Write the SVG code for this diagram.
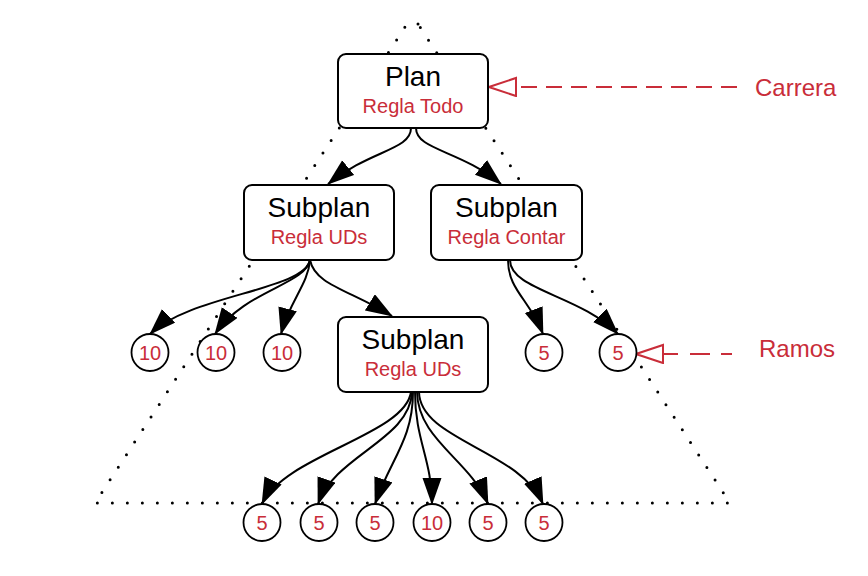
<svg xmlns="http://www.w3.org/2000/svg" width="868" height="576" viewBox="0 0 868 576">
<style>
.box{fill:#fff;stroke:#000;stroke-width:2}
.circ{fill:#fff;stroke:#000;stroke-width:1.8}
.t1{font-family:"Liberation Sans",Arial,sans-serif;font-size:28px;fill:#000;text-anchor:middle}
.t2{font-family:"Liberation Sans",Arial,sans-serif;font-size:20px;fill:#c92d39;text-anchor:middle}
.lbl{font-family:"Liberation Sans",Arial,sans-serif;font-size:24px;fill:#c92d39}
.edge{fill:none;stroke:#000;stroke-width:2;marker-end:url(#arr)}
.call{fill:none;stroke:#c92d39;stroke-width:2;marker-end:url(#open)}
.dots{fill:none;stroke:#000;stroke-width:3;stroke-linecap:round;stroke-dasharray:0 15}
</style>
<defs>
<marker id="arr" markerUnits="userSpaceOnUse" markerWidth="28" markerHeight="20" refX="26" refY="9.5" orient="auto">
<path d="M0,0 L27,9.5 L0,19 Z" fill="#000"/>
</marker>
<marker id="open" markerUnits="userSpaceOnUse" markerWidth="30" markerHeight="22" refX="28" refY="10" orient="auto">
<path d="M1,1 L28,10 L1,19 Z" fill="#fff" stroke="#c92d39" stroke-width="2"/>
</marker>
</defs>
<rect width="868" height="576" fill="#fff"/>
<path class="dots" d="M418 24 L407 24 L95 503 L730 503 Z"/>
<g id="connectors">
<path class="edge" d="M411 128 C411 150 370 150 328 184"/>
<path class="edge" d="M416 128 C416 150 460 150 501 184"/>
<path class="edge" d="M310 260 C305 290 190 295 150 334"/>
<path class="edge" d="M310 260 C305 285 245 290 215 334"/>
<path class="edge" d="M310 260 C308 285 290 300 281 334"/>
<path class="edge" d="M310 260 C315 285 350 290 392 316"/>
<path class="edge" d="M508 260 C508 290 530 300 543 334"/>
<path class="edge" d="M510 260 C510 290 580 295 618 334"/>
<path class="edge" d="M411 392 C405 435 285 455 262 504"/>
<path class="edge" d="M412 392 C410 440 335 455 318 504"/>
<path class="edge" d="M413 392 C413 440 390 460 375 504"/>
<path class="edge" d="M415 392 C415 440 432 460 432 504"/>
<path class="edge" d="M417 392 C418 440 470 460 488 504"/>
<path class="edge" d="M419 392 C420 440 520 450 543 504"/>
<path class="call" d="M737 87 L489 87" stroke-dasharray="16 9"/>
<path class="call" d="M732 354 L636 354" stroke-dasharray="11 11 20 12 20"/>
</g>
<g id="plan">
<rect class="box" x="338" y="54" width="150" height="74" rx="8"/>
<text class="t1" x="413" y="86">Plan</text>
<text class="t2" x="413" y="113">Regla Todo</text>
</g>
<g id="subplan-uds-1">
<rect class="box" x="244" y="185" width="150" height="75" rx="8"/>
<text class="t1" x="319" y="217">Subplan</text>
<text class="t2" x="319" y="244">Regla UDs</text>
</g>
<g id="subplan-contar">
<rect class="box" x="431" y="185" width="151" height="75" rx="8"/>
<text class="t1" x="506.5" y="217">Subplan</text>
<text class="t2" x="506.5" y="244">Regla Contar</text>
</g>
<g id="subplan-uds-2">
<rect class="box" x="338" y="317" width="150" height="75" rx="8"/>
<text class="t1" x="413" y="349">Subplan</text>
<text class="t2" x="413" y="376">Regla UDs</text>
</g>
<g id="c1"><circle class="circ" cx="150" cy="352.5" r="18.5"/><text class="t2" x="150" y="359.5">10</text></g>
<g id="c2"><circle class="circ" cx="216" cy="352.5" r="18.5"/><text class="t2" x="216" y="359.5">10</text></g>
<g id="c3"><circle class="circ" cx="282" cy="352.5" r="18.5"/><text class="t2" x="282" y="359.5">10</text></g>
<g id="c4"><circle class="circ" cx="544" cy="352.5" r="18.5"/><text class="t2" x="544" y="359.5">5</text></g>
<g id="c5"><circle class="circ" cx="618" cy="352.5" r="18.5"/><text class="t2" x="618" y="359.5">5</text></g>
<g id="b1"><circle class="circ" cx="262" cy="522.5" r="18.5"/><text class="t2" x="262" y="529.5">5</text></g>
<g id="b2"><circle class="circ" cx="319" cy="522.5" r="18.5"/><text class="t2" x="319" y="529.5">5</text></g>
<g id="b3"><circle class="circ" cx="375" cy="522.5" r="18.5"/><text class="t2" x="375" y="529.5">5</text></g>
<g id="b4"><circle class="circ" cx="432" cy="522.5" r="18.5"/><text class="t2" x="432" y="529.5">10</text></g>
<g id="b5"><circle class="circ" cx="488" cy="522.5" r="18.5"/><text class="t2" x="488" y="529.5">5</text></g>
<g id="b6"><circle class="circ" cx="544" cy="522.5" r="18.5"/><text class="t2" x="544" y="529.5">5</text></g>
<g id="label-carrera"><text class="lbl" x="755" y="96">Carrera</text></g>
<g id="label-ramos"><text class="lbl" x="759" y="357">Ramos</text></g>
</svg>
